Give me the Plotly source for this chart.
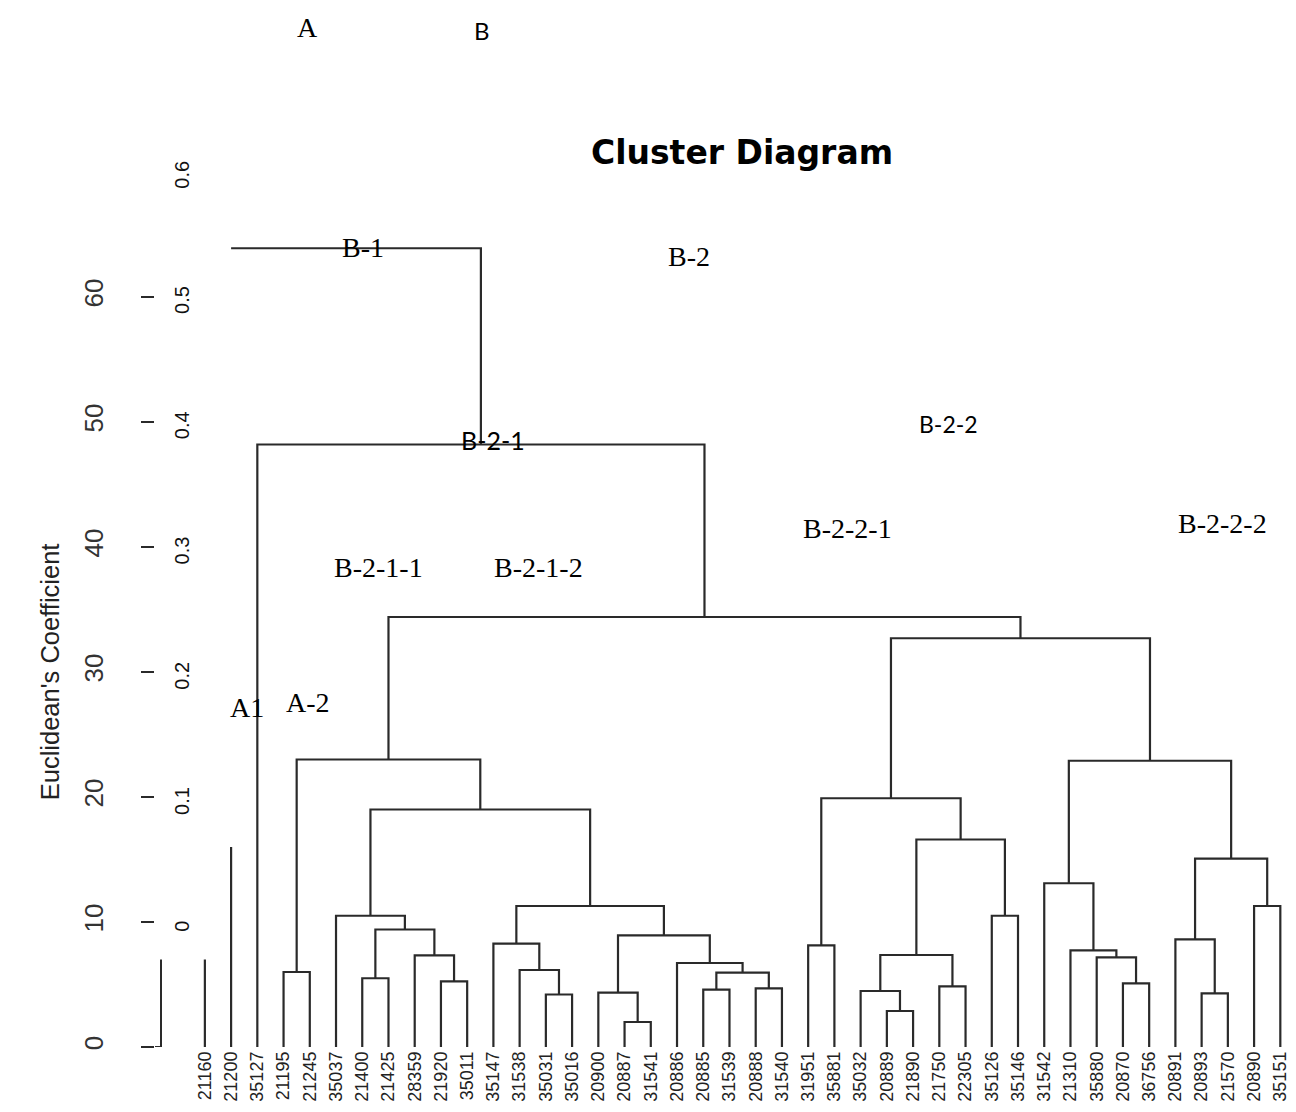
import plotly.graph_objects as go

# ---------------- data ----------------
LEAF_LABELS = ["21160", "21200", "35127", "21195", "21245", "35037", "21400", "21425",
               "28359", "21920", "35011", "35147", "31538", "35031", "35016", "20900",
               "20887", "31541", "20886", "20885", "31539", "20888", "31540", "31951",
               "35881", "35032", "20889", "21890", "21750", "22305", "35126", "35146",
               "31542", "21310", "35880", "20870", "36756", "20891", "20893", "21570",
               "20890", "35151"]

# merges: name, left child, right child, height (int = leaf index, str = earlier merge)
MERGE_NAMES = ["m1", "m2", "m3", "m4", "m5", "m6", "m7", "m8", "m9", "m10",
               "m11", "m12", "m13", "m14", "m15", "m16", "m17", "m18", "m19", "m20",
               "m21", "m22", "m23", "m24", "m25", "m26", "m27", "m28", "m29", "m30",
               "m31", "m32", "m33", "m34", "m35", "m36", "m37", "m38", "m39", "m40"]
MERGE_LEFT = [3, 6, 9, 8, "m2", 5, 13, 12, 11, 16,
              15, 19, 21, "m12", 18, "m11", "m9", "m6", "m1", 23,
              26, 25, 28, "m22", 30, "m24", "m20", 35, 34, 33,
              32, 38, 37, 40, "m33", "m31", "m27", "m19", 2, 1]
MERGE_RIGHT = [4, 7, 10, "m3", "m4", "m5", 14, "m7", "m8", 17,
               "m10", 20, 22, "m13", "m14", "m15", "m16", "m17", "m18", 24,
               27, "m21", 29, "m23", 31, "m25", "m26", 36, "m28", "m29",
               "m30", 39, "m32", 41, "m34", "m35", "m36", "m37", "m38", "m39"]
MERGE_HEIGHT = [6.0, 5.5, 5.25, 7.33, 9.4, 10.5, 4.2, 6.16, 8.27, 2.0,
                4.35, 4.59, 4.69, 5.95, 6.72, 8.93, 11.28, 19.0, 23.0, 8.13,
                2.88, 4.48, 4.85, 7.36, 10.5, 16.6, 19.9, 5.09, 7.17, 7.73,
                13.1, 4.29, 8.61, 11.28, 15.07, 22.9, 32.7, 34.4, 48.2, 63.9]

# leaves that stand alone (drawn as stubs) and their heights
STUB_LEAVES = [0, 1]
STUB_HEIGHTS = [7.0, 16.0]
# merges whose left leg is not drawn
HIDDEN_LEFT_LEG = ["m40"]

Y_TICKS = [0, 10, 20, 30, 40, 50, 60]
COEF_TICKS = [0, 0.1, 0.2, 0.3, 0.4, 0.5, 0.6]
COEF_TEXT = ["0", "0.1", "0.2", "0.3", "0.4", "0.5", "0.6"]

TITLE = "Cluster Diagram"
Y_TITLE = "Euclidean's Coefficient"

# ---------------- geometry / style ----------------
W, H = 1296, 1112
PLOT_L, PLOT_R, PLOT_T, PLOT_B = 155, 1290, 10, 1047
PX_PER_UNIT = 12.5
FIRST_LEAF_PX = 205
LEAF_STEP_PX = 26.3
COEF_OFFSET = 9.42     # primary-unit position of coefficient 0
COEF_SCALE = 100.2     # primary units per coefficient unit
AXIS_STUB_PX = 161
AXIS_STUB_TOP = 7.0
LINE_COLOR = "#2a2a2a"
SERIF = "Liberation Serif"
SANS = "Liberation Sans"
CALI = "Lato"

y_top = (PLOT_B - PLOT_T) / PX_PER_UNIT
x_lo = -(FIRST_LEAF_PX - PLOT_L) / LEAF_STEP_PX
x_hi = x_lo + (PLOT_R - PLOT_L) / LEAF_STEP_PX


def paper_x(px):
    return (px - PLOT_L) / (PLOT_R - PLOT_L)


def paper_y(py):
    return (PLOT_B - py) / (PLOT_B - PLOT_T)


# ---------------- dendrogram segments ----------------
node_pos = {}


def pos(node):
    if isinstance(node, int):
        return float(node), 0.0
    return node_pos[node]


xs, ys = [], []
for name, a, b, h in zip(MERGE_NAMES, MERGE_LEFT, MERGE_RIGHT, MERGE_HEIGHT):
    lx, lh = pos(a)
    rx, rh = pos(b)
    if name in HIDDEN_LEFT_LEG:
        xs += [lx, rx, rx, None]
        ys += [h, h, rh, None]
    else:
        xs += [lx, lx, rx, rx, None]
        ys += [lh, h, h, rh, None]
    node_pos[name] = ((lx + rx) / 2.0, h)

for leaf, sh in zip(STUB_LEAVES, STUB_HEIGHTS):
    xs += [leaf, leaf, None]
    ys += [0, sh, None]

fig = go.Figure()
fig.add_trace(go.Scatter(x=xs, y=ys, mode="lines",
                         line=dict(color=LINE_COLOR, width=2.2),
                         hoverinfo="skip", showlegend=False, cliponaxis=False))
# invisible trace to activate the coefficient axis
fig.add_trace(go.Scatter(x=[None], y=[None], yaxis="y2", showlegend=False))

# ---------------- annotations ----------------
LABELS = [
    ("A", 308, 28, SERIF, 28),
    ("B", 483, 31, CALI, 24),
    ("B-1", 364, 247, SERIF, 28),
    ("B-2", 690, 256, SERIF, 28),
    ("B-2-1", 494, 440, CALI, 25),
    ("B-2-2", 951, 424, CALI, 23),
    ("B-2-1-1", 379, 567, SERIF, 28),
    ("B-2-1-2", 540, 567, SERIF, 28),
    ("B-2-2-1", 849, 528, SERIF, 28),
    ("B-2-2-2", 1225, 523, SERIF, 28),
    ("A1", 247, 707, SERIF, 28),
    ("A-2", 308, 703, SERIF, 28),
]
annotations = []
for text, px, py, fam, size in LABELS:
    annotations.append(dict(text=text, x=paper_x(px), y=paper_y(py), xref="paper", yref="paper",
                            showarrow=False, xanchor="center", yanchor="middle",
                            font=dict(family=fam, size=size, color="#000000")))
annotations.append(dict(text=Y_TITLE, x=paper_x(50), y=paper_y(672), xref="paper", yref="paper",
                        showarrow=False, textangle=-90, xanchor="center", yanchor="middle",
                        font=dict(family=SANS, size=25.5, color="#222222")))

shapes = [
    dict(type="line", xref="paper", yref="y", x0=paper_x(PLOT_L), x1=paper_x(AXIS_STUB_PX),
         y0=0, y1=0, line=dict(color=LINE_COLOR, width=2)),
    dict(type="line", xref="paper", yref="y", x0=paper_x(AXIS_STUB_PX), x1=paper_x(AXIS_STUB_PX),
         y0=0, y1=AXIS_STUB_TOP, line=dict(color=LINE_COLOR, width=2)),
]

fig.update_layout(
    width=W, height=H,
    margin=dict(l=PLOT_L, r=W - PLOT_R, t=PLOT_T, b=H - PLOT_B),
    paper_bgcolor="white", plot_bgcolor="white",
    title=dict(text=TITLE, x=742 / W, xref="container", xanchor="center",
               y=1 - 152 / H, yref="container", yanchor="middle",
               font=dict(family="DejaVu Sans", size=33, color="#000000", weight="bold")),
    xaxis=dict(range=[x_lo, x_hi], tickvals=list(range(len(LEAF_LABELS))), ticktext=LEAF_LABELS,
               tickangle=-90, tickfont=dict(family=SANS, size=18, color="#222222"),
               ticks="", showgrid=False, zeroline=False, showline=False),
    yaxis=dict(range=[0, y_top], tickvals=Y_TICKS, ticktext=[str(v) for v in Y_TICKS],
               tickangle=-90, tickfont=dict(family=SANS, size=26, color="#333333"),
               ticks="outside", ticklen=13, tickwidth=2, tickcolor=LINE_COLOR,
               ticklabelstandoff=28,
               showgrid=False, zeroline=False, showline=False),
    yaxis2=dict(overlaying="y", anchor="free", side="left", position=paper_x(193),
                range=[(0 - COEF_OFFSET) / COEF_SCALE, (y_top - COEF_OFFSET) / COEF_SCALE],
                tickvals=COEF_TICKS, ticktext=COEF_TEXT, tickangle=-90,
                tickfont=dict(family=SANS, size=20, color="#111111"),
                ticks="", showgrid=False, zeroline=False, showline=False),
    annotations=annotations,
    shapes=shapes,
    showlegend=False,
)

fig.write_html("out.html", config={"displayModeBar": False},
               post_script="document.body.style.margin='0';document.body.style.overflow='hidden';")
